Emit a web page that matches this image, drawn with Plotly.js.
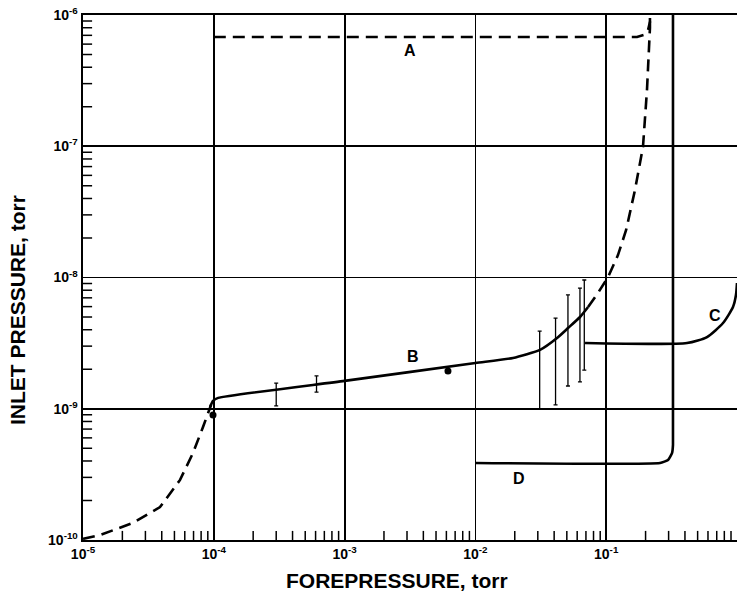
<!DOCTYPE html>
<html>
<head>
<meta charset="utf-8">
<script src="https://cdn.plot.ly/plotly-3.0.1.min.js"></script>
<style>html,body{margin:0;padding:0;background:#fff;}#chart{width:737px;height:598px;}</style>
</head>
<body>
<div id="chart"></div>
<script>
// ---- Data (forepressure x, inlet pressure y, torr) ----
const xTickVals = [1e-5, 1e-4, 1e-3, 1e-2, 1e-1];
const xTickText = ['10<sup>-5</sup>', '10<sup>-4</sup>', '10<sup>-3</sup>', '10<sup>-2</sup>', '10<sup>-1</sup>'];
const yTickVals = [1e-10, 1e-9, 1e-8, 1e-7, 1e-6];
const yTickText = ['10<sup>-10</sup>', '10<sup>-9</sup>', '10<sup>-8</sup>', '10<sup>-7</sup>', '10<sup>-6</sup>'];
const xTitle = 'FOREPRESSURE, torr';
const yTitle = 'INLET PRESSURE, torr';

// Curve A (dashed, upper)
const aX = [1e-4, 0.172, 0.194, 0.209, 0.216, 0.216];
const aY = [6.79e-7, 6.79e-7, 7.04e-7, 7.69e-7, 8.85e-7, 1e-6];

// Low-forepressure dashed limit (left)
const lowX = [1e-5, 1.35e-5, 2.41e-5, 3.88e-5, 5.52e-5, 6.94e-5, 8.27e-5, 9.03e-5, 9.53e-5];
const lowY = [1.02e-10, 1.09e-10, 1.35e-10, 1.78e-10, 2.87e-10, 4.61e-10, 7.26e-10, 9.44e-10, 1.07e-9];

// Curve B (solid)
const bX = [9.36e-5, 9.86e-5, 1.08e-4, 1e-3, 1e-2, 1.94e-2, 3.12e-2, 4.21e-2, 5.11e-2, 6.31e-2, 7.27e-2];
const bY = [1.03e-9, 1.15e-9, 1.21e-9, 1.63e-9, 2.23e-9, 2.44e-9, 2.81e-9, 3.46e-9, 4.12e-9, 5.00e-9, 5.96e-9];

// High-forepressure dashed limit (right)
const highX = [7.27e-2, 8.65e-2, 0.103, 0.123, 0.142, 0.166, 0.191, 0.205, 0.216, 0.216];
const highY = [5.96e-9, 7.62e-9, 1.0e-8, 1.48e-8, 2.30e-8, 4.65e-8, 9.86e-8, 2.68e-7, 7.96e-7, 1e-6];

// Curve C (solid)
const cX = [0.0689, 0.415, 0.590, 0.782, 0.932, 0.982, 1.0];
const cY = [3.17e-9, 3.17e-9, 3.52e-9, 4.50e-9, 5.96e-9, 7.36e-9, 9.08e-9];

// Curve D (solid)
const dX = [1e-2, 0.258, 0.297, 0.319, 0.324, 0.324];
const dY = [3.86e-10, 3.86e-10, 4.07e-10, 4.61e-10, 5.30e-10, 1e-6];

// Measured ranges (error bars): x, low, high
const ebX = [3.0e-4, 6.1e-4, 3.1e-2, 4.1e-2, 5.1e-2, 6.3e-2, 6.8e-2];
const ebLo = [1.05e-9, 1.34e-9, 1.0e-9, 1.07e-9, 1.49e-9, 1.60e-9, 1.97e-9];
const ebHi = [1.57e-9, 1.78e-9, 3.91e-9, 4.91e-9, 7.36e-9, 8.31e-9, 9.57e-9];

// Single measured points
const ptX = [9.86e-5, 6.17e-3];
const ptY = [8.95e-10, 1.94e-9];

// Curve labels
const labText = ['A', 'B', 'C', 'D'];
const labX = [3.16e-3, 3.34e-3, 0.68, 2.15e-2];
const labY = [5.41e-7, 2.52e-9, 5.10e-9, 2.96e-10];

// ---- Build traces ----
const solid = {color: '#000', width: 2.6};
const dashed = {color: '#000', width: 2.6, dash: '12px,7px'};
const ebMid = ebLo.map((lo, i) => Math.sqrt(lo * ebHi[i]));

// minor tick positions (2..9 within each decade) for the log axes
function minorTicks(e0, e1) {
  const v = [];
  for (let e = e0; e < e1; e++) for (let k = 2; k <= 9; k++) v.push(k * Math.pow(10, e));
  return v;
}
const xMinor = minorTicks(-5, 0);
const yMinor = minorTicks(-10, -6);

const traces = [
  // inward minor ticks, half clipped by the plot area
  {x: xMinor, y: xMinor.map(() => 1e-10), mode: 'markers', cliponaxis: true,
   marker: {symbol: 'line-ns', size: 13, line: {width: 1.5, color: '#000'}}, hoverinfo: 'skip'},
  {x: yMinor.map(() => 1e-5), y: yMinor, mode: 'markers', cliponaxis: true,
   marker: {symbol: 'line-ew', size: 13, line: {width: 1.5, color: '#000'}}, hoverinfo: 'skip'},
  {x: aX, y: aY, mode: 'lines', line: dashed, hoverinfo: 'skip'},
  {x: lowX, y: lowY, mode: 'lines', line: dashed, hoverinfo: 'skip'},
  {x: highX, y: highY, mode: 'lines', line: dashed, hoverinfo: 'skip'},
  {x: bX, y: bY, mode: 'lines', line: Object.assign({shape: 'spline', smoothing: 0.5}, solid), hoverinfo: 'skip'},
  {x: cX, y: cY, mode: 'lines', line: Object.assign({shape: 'spline', smoothing: 0.6}, solid), hoverinfo: 'skip'},
  {x: dX, y: dY, mode: 'lines', line: Object.assign({shape: 'spline', smoothing: 0.4}, solid), hoverinfo: 'skip'},
  {x: ebX, y: ebMid, mode: 'markers', marker: {size: 1, color: 'rgba(0,0,0,0)'},
   error_y: {type: 'data', symmetric: false,
             array: ebHi.map((h, i) => h - ebMid[i]),
             arrayminus: ebLo.map((l, i) => ebMid[i] - l),
             color: '#000', thickness: 1.3, width: 2}, hoverinfo: 'skip'},
  {x: ptX, y: ptY, mode: 'markers', marker: {size: 7, color: '#000'}, hoverinfo: 'skip'}
];

const fam = 'Liberation Sans, Arial, sans-serif';
const tickFont = {family: fam, size: 14, color: '#000', weight: 'bold'};
const titleFont = {family: fam, size: 21, color: '#000', weight: 'bold'};

const layout = {
  width: 737, height: 598,
  margin: {l: 83, r: 0, t: 15, b: 58},
  paper_bgcolor: '#fff', plot_bgcolor: '#fff',
  showlegend: false,
  xaxis: {
    type: 'log', range: [-5, 0],
    tickmode: 'array', tickvals: xTickVals, ticktext: xTickText,
    ticks: '', tickfont: tickFont,
    showgrid: true, gridcolor: '#000', gridwidth: 1.8,
    showline: true, linecolor: '#000', linewidth: 2.4, mirror: true,
    zeroline: false
  },
  yaxis: {
    type: 'log', range: [-10, -6],
    tickmode: 'array', tickvals: yTickVals, ticktext: yTickText,
    ticks: '', tickfont: tickFont,
    showgrid: true, gridcolor: '#000', gridwidth: 1.8,
    showline: true, linecolor: '#000', linewidth: 2.4, mirror: true,
    zeroline: false
  },
  annotations: labText.map((t, i) => ({
    x: Math.log10(labX[i]), y: Math.log10(labY[i]), xref: 'x', yref: 'y',
    text: t, showarrow: false,
    font: {family: fam, size: 16, color: '#000', weight: 'bold'}
  })).concat([
    {text: xTitle, xref: 'paper', yref: 'paper', x: (397 - 83) / 654, y: -(580 - 540) / 525,
     xanchor: 'center', yanchor: 'middle', showarrow: false, font: titleFont},
    {text: yTitle, xref: 'paper', yref: 'paper', x: (17 - 83) / 654, y: (540 - 310) / 525,
     xanchor: 'center', yanchor: 'middle', textangle: -90, showarrow: false, font: titleFont}
  ])
};

Plotly.newPlot('chart', traces, layout, {displayModeBar: false, staticPlot: true});
</script>
</body>
</html>
